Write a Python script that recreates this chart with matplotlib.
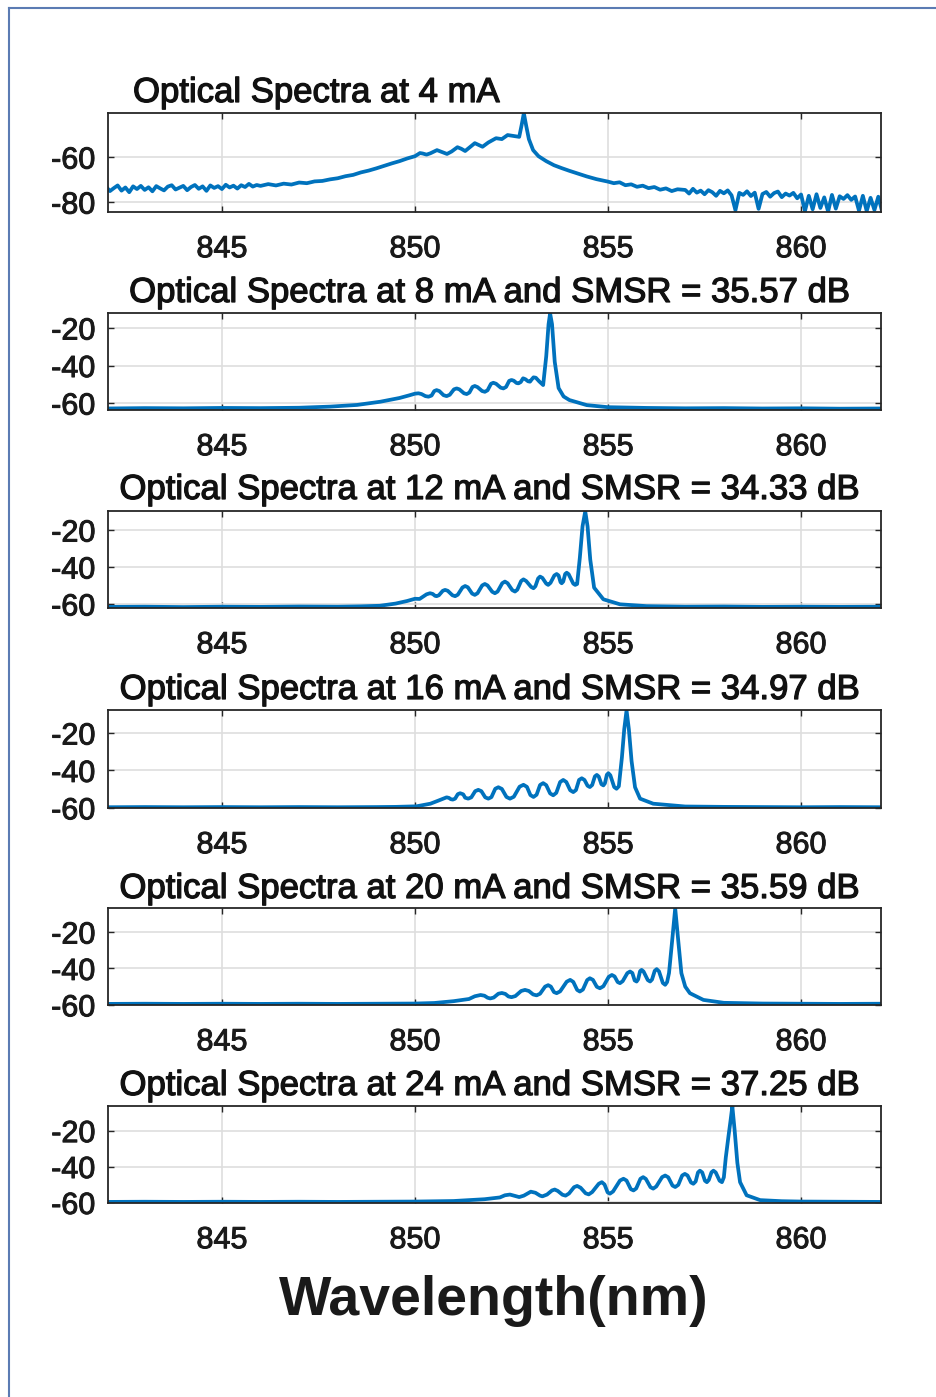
import matplotlib
matplotlib.use("Agg")
import matplotlib.pyplot as plt
from matplotlib.lines import Line2D
import matplotlib.patheffects as pe

plt.rcParams['font.family'] = ['Liberation Sans', 'DejaVu Sans']
plt.rcParams['axes.unicode_minus'] = False

# ---------------- data ----------------
titles = ["Optical Spectra at 4 mA",
          "Optical Spectra at 8 mA and SMSR = 35.57 dB",
          "Optical Spectra at 12 mA and SMSR = 34.33 dB",
          "Optical Spectra at 16 mA and SMSR = 34.97 dB",
          "Optical Spectra at 20 mA and SMSR = 35.59 dB",
          "Optical Spectra at 24 mA and SMSR = 37.25 dB"]

x_ticks = [845, 850, 855, 860]
x_tick_labels = ["845", "850", "855", "860"]
y_ticks = [[-80, -60], [-60, -40, -20], [-60, -40, -20],
           [-60, -40, -20], [-60, -40, -20], [-60, -40, -20]]
y_limits = [(-84.4, -40.4), (-63.7, -12.0), (-62.2, -9.7),
            (-60.1, -7.7), (-60.1, -6.8), (-60.3, -6.3)]
x_limits = (842.05, 862.07)

# 4 mA
wl_4mA = [842.0, 842.1, 842.2, 842.3, 842.4, 842.5, 842.6, 842.7, 842.8, 842.9,
          843.0, 843.1, 843.2, 843.3, 843.4, 843.5, 843.6, 843.7, 843.8, 843.9,
          844.0, 844.1, 844.2, 844.3, 844.4, 844.5, 844.6, 844.7, 844.8, 844.9,
          845.0, 845.1, 845.2, 845.3, 845.4, 845.5, 845.6, 845.7, 845.8, 845.9, 846.0,
          846.2, 846.4, 846.6, 846.8, 847.0, 847.2, 847.4, 847.6, 847.8, 848.0,
          848.2, 848.4, 848.6, 848.8, 849.0, 849.2, 849.4, 849.6, 849.8,
          850.0, 850.13, 850.2, 850.3, 850.4, 850.57, 850.68, 850.83, 850.95, 851.1,
          851.2, 851.3, 851.42, 851.55, 851.65, 851.75, 851.9, 852.1, 852.25, 852.4,
          852.55, 852.7, 852.76, 852.82, 852.88, 852.95, 853.06, 853.2,
          853.4, 853.6, 853.8, 854.0, 854.2, 854.45, 854.7, 855.0, 855.15, 855.3,
          855.45, 855.6, 855.75, 855.9, 856.05, 856.2, 856.35, 856.5, 856.65, 856.8,
          857.0, 857.1, 857.2, 857.3, 857.4, 857.5, 857.6, 857.7, 857.8, 857.9,
          858.0, 858.1, 858.2, 858.3, 858.4, 858.5, 858.6, 858.7, 858.8, 858.9,
          859.0, 859.1, 859.2, 859.3, 859.4, 859.5, 859.6, 859.7, 859.8, 859.9,
          860.0, 860.1, 860.2, 860.3, 860.4, 860.5, 860.6, 860.7, 860.8, 860.9,
          861.0, 861.1, 861.2, 861.3, 861.4, 861.5, 861.6, 861.7, 861.8, 861.9,
          862.0, 862.1]
db_4mA = [-73.2, -75.1, -73.8, -72.6, -74.9, -73.5, -75.6, -73.0, -74.2, -72.8,
          -74.6, -73.4, -75.2, -72.9, -73.9, -74.8, -73.1, -72.5, -74.4, -73.6,
          -72.8, -74.7, -73.3, -72.4, -74.1, -73.0, -75.0, -72.6, -73.7, -72.9,
          -74.2, -72.3, -73.5, -72.7, -74.0, -72.5, -73.3, -71.9, -73.1, -72.4, -72.8,
          -72.0, -72.6, -71.8, -72.2, -71.3, -71.6, -70.8, -70.6, -69.9, -69.4,
          -68.5, -67.9, -66.8, -66.0, -65.0, -63.9, -62.8, -61.8, -60.6,
          -59.6, -58.2, -58.4, -58.9, -58.3, -56.9, -57.6, -58.6, -57.5, -55.6,
          -56.3, -57.3, -55.6, -53.8, -54.6, -55.4, -53.5, -51.6, -52.0, -50.2,
          -50.6, -51.0, -46.0, -40.5, -46.0, -52.0, -56.9, -59.6,
          -61.8, -63.6, -64.9, -66.1, -67.2, -68.6, -69.8, -70.9, -71.6, -71.2,
          -72.5, -72.1, -73.2, -72.7, -73.8, -73.3, -74.5, -73.9, -75.1, -74.3,
          -74.6, -76.2, -74.1, -75.8, -74.9, -76.5, -74.7, -75.6, -77.2, -75.0,
          -76.1, -74.8, -77.0, -83.6, -75.9, -76.8, -75.2, -77.3, -75.8, -83.0,
          -76.4, -75.5, -77.6, -76.0, -75.3, -77.8, -76.2, -77.1, -75.9, -78.3,
          -76.6, -84.0, -77.2, -83.2, -76.5, -82.6, -77.9, -84.2, -76.8, -82.9,
          -77.4, -78.6, -76.9, -79.0, -77.5, -83.8, -77.2, -84.0, -78.1, -83.5,
          -77.6, -84.2]

# 8 mA
wl_8mA = [842.0, 843.0, 844.0, 845.0, 846.0, 847.0, 847.8, 848.5, 849.1, 849.6,
          849.85, 850.0, 850.09, 850.17, 850.27, 850.35, 850.43, 850.5, 850.56, 850.63,
          850.74, 850.82, 850.9, 851.01, 851.08, 851.15, 851.27, 851.34, 851.41, 851.49,
          851.55, 851.62, 851.74, 851.81, 851.88, 851.97, 852.03, 852.1, 852.22, 852.29,
          852.36, 852.44, 852.5, 852.56, 852.63, 852.68, 852.74, 852.8, 852.86, 852.93,
          852.98, 853.02, 853.07, 853.13, 853.22, 853.32, 853.4, 853.46, 853.5, 853.55,
          853.62, 853.72, 853.85, 854.0, 854.45, 855.0, 856.0, 857.0, 858.0, 859.0,
          860.0, 861.0, 862.1]
db_8mA = [-62.9, -62.7, -62.8, -62.6, -62.7, -62.5, -61.9, -61.0, -59.3, -57.3,
          -55.9, -55.0, -54.8, -55.2, -56.3, -56.6, -56.0, -53.6, -53.1, -53.6,
          -55.8, -56.3, -55.6, -52.7, -52.2, -52.7, -54.8, -55.2, -54.4, -51.4,
          -50.9, -51.5, -53.6, -54.0, -53.2, -49.7, -49.2, -49.7, -51.8, -52.2,
          -51.4, -48.2, -47.7, -48.1, -49.3, -49.5, -48.8, -46.8, -47.3, -48.4,
          -48.6, -47.5, -46.3, -46.5, -48.5, -50.4, -35.0, -18.0, -12.2, -18.0,
          -38.0, -52.0, -56.5, -58.4, -61.1, -62.2, -62.6, -62.8, -62.7, -62.9,
          -62.8, -63.0, -62.9]

# 12 mA
wl_12mA = [842.0, 843.0, 844.0, 845.0, 846.0, 847.0, 848.0, 848.6, 849.09, 849.5,
           849.8, 850.0, 850.12, 850.3, 850.39, 850.46, 850.52, 850.56, 850.62, 850.72,
           850.78, 850.85, 850.97, 851.04, 851.11, 851.23, 851.3, 851.37, 851.48, 851.55,
           851.62, 851.74, 851.81, 851.88, 852.0, 852.07, 852.14, 852.26, 852.33, 852.4,
           852.52, 852.59, 852.65, 852.75, 852.81, 852.88, 853.01, 853.07, 853.12, 853.19,
           853.24, 853.3, 853.4, 853.45, 853.51, 853.61, 853.67, 853.72, 853.77, 853.8,
           853.84, 853.89, 853.93, 853.98, 854.1, 854.15, 854.2, 854.27, 854.34, 854.41,
           854.47, 854.54, 854.64, 854.88, 855.31, 856.0, 857.0, 858.0, 859.0, 860.0,
           861.0, 862.1]
db_12mA = [-61.6, -61.5, -61.7, -61.5, -61.6, -61.4, -61.5, -61.3, -61.0, -59.8,
           -58.4, -57.2, -57.3, -54.8, -54.2, -54.6, -55.6, -55.8, -55.3, -52.9,
           -52.4, -52.9, -55.3, -55.8, -55.0, -51.1, -50.3, -51.0, -54.4, -55.1,
           -54.2, -50.0, -49.2, -50.0, -53.4, -54.2, -53.3, -48.8, -47.9, -48.8,
           -52.5, -53.3, -52.3, -47.6, -46.7, -47.6, -50.8, -51.5, -50.4, -46.2,
           -45.2, -45.9, -49.0, -49.7, -48.6, -44.6, -43.8, -44.6, -48.2, -48.8,
           -47.9, -43.8, -43.1, -43.9, -49.0, -49.7, -49.2, -35.0, -18.0, -9.9,
           -18.0, -36.0, -51.2, -57.5, -60.2, -61.2, -61.5, -61.4, -61.6, -61.5,
           -61.6, -61.5]

# 16 mA
wl_16mA = [842.0, 843.0, 844.0, 845.0, 846.0, 847.0, 848.0, 849.0, 849.5, 850.04,
           850.4, 850.6, 850.82, 850.88, 850.93, 850.98, 851.04, 851.11, 851.17, 851.25,
           851.3, 851.38, 851.46, 851.56, 851.64, 851.72, 851.82, 851.9, 851.98, 852.08,
           852.16, 852.25, 852.37, 852.46, 852.56, 852.71, 852.81, 852.9, 852.99, 853.07,
           853.15, 853.24, 853.32, 853.4, 853.5, 853.58, 853.66, 853.76, 853.84, 853.92,
           854.02, 854.1, 854.17, 854.25, 854.32, 854.39, 854.47, 854.53, 854.59, 854.66,
           854.71, 854.76, 854.83, 854.88, 854.92, 854.97, 855.01, 855.06, 855.16, 855.22,
           855.28, 855.36, 855.42, 855.48, 855.54, 855.61, 855.7, 855.83, 856.17, 857.0,
           858.0, 859.0, 860.0, 861.0, 862.1]
db_16mA = [-59.7, -59.6, -59.7, -59.6, -59.7, -59.6, -59.7, -59.6, -59.5, -59.2,
           -57.8, -56.2, -54.4, -54.7, -55.4, -55.6, -55.1, -52.7, -52.2, -52.8,
           -54.6, -55.1, -54.4, -51.1, -50.4, -51.1, -54.4, -55.1, -54.3, -49.8,
           -49.0, -49.9, -54.2, -55.1, -54.1, -48.7, -47.7, -48.8, -53.2, -54.2,
           -53.0, -47.8, -46.8, -47.9, -52.3, -53.3, -52.0, -46.2, -45.1, -46.2,
           -50.6, -51.6, -50.5, -45.1, -44.2, -45.1, -48.2, -48.9, -47.8, -43.2,
           -42.4, -43.3, -47.4, -48.0, -46.9, -42.3, -41.5, -42.6, -48.9, -49.8,
           -48.5, -33.0, -18.0, -7.9, -18.0, -35.0, -49.0, -55.1, -57.8, -59.3,
           -59.5, -59.6, -59.7, -59.6, -59.7]

# 20 mA
wl_20mA = [842.0, 843.0, 844.0, 845.0, 846.0, 847.0, 848.0, 849.0, 850.0, 850.5,
           851.0, 851.4, 851.55, 851.7, 851.8, 851.88, 851.95, 852.04, 852.16, 852.25,
           852.34, 852.42, 852.5, 852.6, 852.75, 852.85, 852.95, 853.06, 853.15, 853.24,
           853.37, 853.45, 853.52, 853.6, 853.67, 853.76, 853.93, 854.02, 854.1, 854.2,
           854.27, 854.35, 854.46, 854.53, 854.61, 854.71, 854.79, 854.88, 855.02, 855.1,
           855.17, 855.25, 855.31, 855.38, 855.5, 855.57, 855.63, 855.69, 855.74, 855.78,
           855.83, 855.87, 855.92, 856.03, 856.09, 856.14, 856.21, 856.26, 856.32, 856.42,
           856.48, 856.53, 856.58, 856.66, 856.74, 856.82, 856.9, 857.0, 857.12, 857.47,
           858.0, 859.0, 860.0, 861.0, 862.1]
db_20mA = [-59.5, -59.4, -59.5, -59.4, -59.5, -59.4, -59.5, -59.4, -59.3, -59.0,
           -58.0, -56.8, -55.3, -54.6, -55.0, -56.1, -56.5, -56.0, -53.9, -53.5,
           -54.0, -55.4, -55.8, -55.2, -52.4, -51.8, -52.4, -54.3, -54.8, -53.9,
           -50.0, -49.2, -50.0, -53.0, -53.6, -52.6, -47.3, -46.3, -47.4, -51.8,
           -52.7, -51.6, -46.4, -45.4, -46.3, -50.1, -50.9, -49.8, -44.6, -43.6,
           -44.4, -47.5, -48.1, -47.0, -42.6, -41.7, -42.5, -46.6, -47.2, -46.0,
           -41.5, -40.8, -41.7, -46.4, -47.2, -46.1, -41.3, -40.4, -41.6, -48.0,
           -49.0, -47.5, -42.5, -25.0, -7.0, -25.0, -42.6, -50.0, -53.6, -57.3,
           -58.9, -59.3, -59.4, -59.5, -59.4]

# 24 mA
wl_24mA = [842.0, 843.0, 844.0, 845.0, 846.0, 847.0, 848.0, 849.0, 850.0, 851.0,
           851.8, 852.2, 852.33, 852.46, 852.58, 852.7, 852.82, 853.0, 853.12, 853.24,
           853.3, 853.42, 853.55, 853.62, 853.7, 853.82, 853.9, 853.99, 854.12, 854.2,
           854.29, 854.42, 854.5, 854.59, 854.76, 854.84, 854.91, 854.99, 855.05, 855.13,
           855.31, 855.4, 855.48, 855.59, 855.66, 855.73, 855.84, 855.91, 855.98, 856.1,
           856.17, 856.25, 856.4, 856.48, 856.56, 856.67, 856.74, 856.82, 856.92, 856.99,
           857.06, 857.15, 857.21, 857.27, 857.33, 857.38, 857.44, 857.51, 857.56, 857.61,
           857.68, 857.73, 857.79, 857.89, 857.95, 858.0, 858.05, 858.12, 858.17, 858.22,
           858.28, 858.35, 858.42, 858.59, 858.94, 859.5, 860.0, 861.0, 862.1]
db_24mA = [-59.7, -59.6, -59.7, -59.6, -59.7, -59.6, -59.7, -59.6, -59.5, -59.2,
           -58.2, -57.2, -56.0, -55.6, -56.3, -57.0, -56.2, -54.0, -54.6, -56.2,
           -56.6, -55.6, -53.3, -52.8, -53.6, -55.7, -56.2, -55.0, -51.5, -50.8,
           -51.8, -54.9, -55.5, -54.2, -49.6, -48.7, -50.0, -54.4, -55.1, -53.9,
           -47.8, -46.8, -47.8, -52.6, -53.3, -52.2, -46.8, -45.9, -46.9, -51.5,
           -52.3, -51.1, -45.9, -45.0, -46.0, -50.6, -51.4, -50.2, -45.0, -44.1,
           -45.0, -48.9, -49.6, -48.3, -43.3, -42.3, -43.3, -47.9, -48.7, -47.5,
           -43.2, -42.3, -43.3, -47.9, -48.7, -46.0, -35.0, -23.1, -15.0, -6.5,
           -20.0, -38.0, -48.7, -56.0, -58.7, -59.3, -59.5, -59.6, -59.7]

wavelengths = [wl_4mA, wl_8mA, wl_12mA, wl_16mA, wl_20mA, wl_24mA]
powers = [db_4mA, db_8mA, db_12mA, db_16mA, db_20mA, db_24mA]

# ---------------- layout ----------------
W, H = 936, 1397
fig = plt.figure(figsize=(W / 100, H / 100), dpi=100)
fig.patch.set_facecolor('white')

ax_left_px, ax_right_px = 108, 881
ax_rows_px = [(113, 212), (313, 410), (511, 608), (710, 808), (908, 1005), (1106, 1203)]
title_base_px = [102, 302, 499, 699, 898, 1095]

line_color = '#0072BD'
dark = '#262626'
txt_fx = [pe.withStroke(linewidth=0.7, foreground='#1a1a1a')]

for i in range(6):
    top, bot = ax_rows_px[i]
    ax = fig.add_axes([ax_left_px / W, 1 - bot / H,
                       (ax_right_px - ax_left_px) / W, (bot - top) / H])
    ax.plot(wavelengths[i], powers[i], color=line_color, lw=2.7,
            solid_joinstyle='round', solid_capstyle='round', zorder=3)
    ax.set_xlim(*x_limits)
    ax.set_ylim(*y_limits[i])
    ax.set_xticks(x_ticks)
    ax.set_xticklabels(x_tick_labels)
    ax.set_yticks(y_ticks[i])
    ax.grid(True, color='#dedede', lw=1.2, zorder=0)
    ax.set_axisbelow(True)
    ax.tick_params(direction='in', length=4.5, width=1.0, color=dark,
                   top=True, right=True, labelsize=22, labelcolor='#1a1a1a')
    ax.tick_params(axis='x', pad=16)
    ax.tick_params(axis='y', pad=9)
    for lab in ax.get_xticklabels() + ax.get_yticklabels():
        lab.set_path_effects(txt_fx)
    for sp in ax.spines.values():
        sp.set_color(dark)
        sp.set_linewidth(1.3)
        sp.set_zorder(4)
    if i == 0:
        t = fig.text(133 / W, 1 - title_base_px[i] / H, titles[i], ha='left',
                     va='baseline', fontsize=25, color='#111111')
    else:
        t = fig.text(490 / W, 1 - title_base_px[i] / H, titles[i], ha='center',
                     va='baseline', fontsize=25, color='#111111')
    t.set_path_effects([pe.withStroke(linewidth=0.9, foreground='#111111')])

fig.text(494 / W, 1 - 1315 / H, 'Wavelength(nm)', ha='center', va='baseline',
         fontsize=40, fontweight='bold', color='#1a1a1a')

# outer frame of the original window
fig.add_artist(Line2D([9 / W, 9 / W], [0, 1 - 8 / H], transform=fig.transFigure,
                      color='#5b7bb3', lw=1.5))
fig.add_artist(Line2D([9 / W, 1], [1 - 8 / H, 1 - 8 / H], transform=fig.transFigure,
                      color='#5b7bb3', lw=1.5))

fig.savefig('out.png', dpi=100)
